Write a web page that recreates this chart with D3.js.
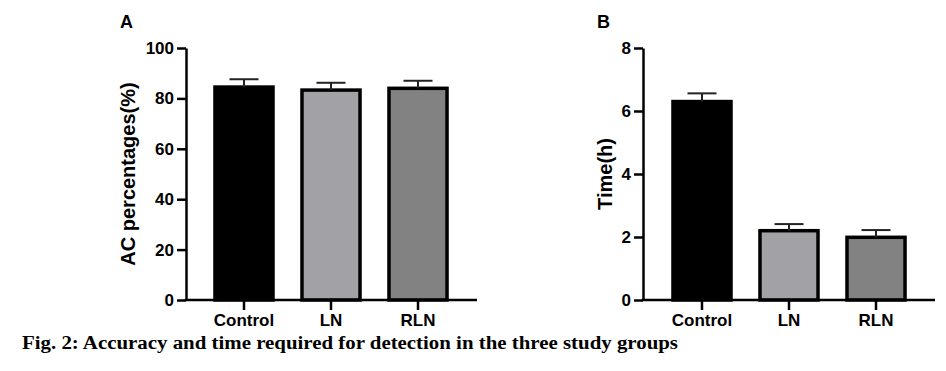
<!DOCTYPE html>
<html>
<head>
<meta charset="utf-8">
<script src="https://cdn.jsdelivr.net/npm/d3@7"></script>
<style>
  html, body { margin: 0; padding: 0; background: #fff; }
  svg { display: block; }
</style>
</head>
<body>
<div id="chart"></div>
<script>
(function () {
  'use strict';

  const GROUPS = ["Control", "LN", "RLN"];
  const FILLS = ["#000000", "#a2a2a6", "#828282"];

  const ACC_MEAN = [84.5, 83.3, 84.0];
  const ACC_ERR  = [3.1, 2.9, 3.0];
  const ACC_TICKS = [0, 20, 40, 60, 80, 100];

  const TIME_MEAN = [6.30, 2.20, 1.99];
  const TIME_ERR  = [0.26, 0.21, 0.23];
  const TIME_TICKS = [0, 2, 4, 6, 8];

  const width = 946, height = 371;
  const svg = d3.select('#chart').append('svg')
    .attr('width', width).attr('height', height);

  const sans = 'Liberation Sans, Arial, sans-serif';

  function panel(opt) {
    const g = svg.append('g');
    const y = d3.scaleLinear().domain(opt.domain).range([300, 48]);
    const x = d3.scaleBand().domain(GROUPS)
      .range(opt.xRange).paddingInner(0.333).paddingOuter(0.333);

    // bars
    g.selectAll('.bar')
      .data(GROUPS)
      .enter()
      .append('rect')
      .attr('x', d => x(d))
      .attr('y', (d, i) => y(opt.mean[i]))
      .attr('width', x.bandwidth())
      .attr('height', (d, i) => y(0) - y(opt.mean[i]))
      .attr('fill', (d, i) => FILLS[i])
      .attr('stroke', '#000')
      .attr('stroke-width', 3.5);

    // error bars (upper only)
    const eb = g.selectAll('.err')
      .data(GROUPS)
      .enter()
      .append('g')
      .attr('stroke', '#222')
      .attr('stroke-width', 2);
    eb.append('line')
      .attr('x1', d => x(d) + x.bandwidth() / 2)
      .attr('x2', d => x(d) + x.bandwidth() / 2)
      .attr('y1', (d, i) => y(opt.mean[i]))
      .attr('y2', (d, i) => y(opt.mean[i] + opt.err[i]));
    eb.append('line')
      .attr('x1', d => x(d) + x.bandwidth() / 2 - 14.5)
      .attr('x2', d => x(d) + x.bandwidth() / 2 + 14.5)
      .attr('y1', (d, i) => y(opt.mean[i] + opt.err[i]))
      .attr('y2', (d, i) => y(opt.mean[i] + opt.err[i]));

    // y axis
    const ya = g.append('g')
      .attr('transform', `translate(${opt.axisX},0)`)
      .call(d3.axisLeft(y).tickValues(opt.ticks).tickSize(9).tickSizeOuter(0).tickPadding(3));
    ya.select('.domain').attr('stroke-width', 2.5);
    ya.selectAll('.tick line').attr('stroke-width', 2.5);
    ya.selectAll('text')
      .attr('font-family', sans).attr('font-weight', 'bold')
      .attr('font-size', 17).attr('fill', '#000');

    // x axis
    const xa = g.append('g')
      .attr('transform', 'translate(0,300)')
      .call(d3.axisBottom(x).tickSize(10).tickSizeOuter(0).tickPadding(4));
    xa.select('.domain').remove();
    xa.selectAll('.tick line').attr('stroke-width', 2.5);
    xa.selectAll('text')
      .attr('font-family', sans).attr('font-weight', 'bold')
      .attr('font-size', 17).attr('fill', '#000');
    xa.append('line')
      .attr('x1', opt.axisX - 1.25).attr('x2', opt.axisEnd)
      .attr('y1', 0).attr('y2', 0)
      .attr('stroke', '#000').attr('stroke-width', 2.5);

    // y title
    g.append('text')
      .attr('transform', `translate(${opt.titleX},174) rotate(-90)`)
      .attr('text-anchor', 'middle')
      .attr('font-family', sans).attr('font-weight', 'bold')
      .attr('font-size', 20)
      .text(opt.title);

    // panel letter
    g.append('text')
      .attr('x', opt.letterX).attr('y', 28)
      .attr('font-family', sans).attr('font-weight', 'bold')
      .attr('font-size', 18)
      .text(opt.letter);
  }

  panel({
    domain: [0, 100], ticks: ACC_TICKS, mean: ACC_MEAN, err: ACC_ERR,
    xRange: [186, 476], axisX: 186, axisEnd: 477,
    title: 'AC percentages(%)', titleX: 135, letter: 'A', letterX: 120
  });

  panel({
    domain: [0, 8], ticks: TIME_TICKS, mean: TIME_MEAN, err: TIME_ERR,
    xRange: [644, 934], axisX: 643, axisEnd: 935,
    title: 'Time(h)', titleX: 612, letter: 'B', letterX: 597
  });

  // caption
  svg.append('text')
    .attr('x', 22).attr('y', 349)
    .attr('font-family', 'Liberation Serif, Times New Roman, serif')
    .attr('font-weight', 'bold')
    .attr('font-size', 18)
    .attr('textLength', 656)
    .attr('lengthAdjust', 'spacingAndGlyphs')
    .text('Fig. 2: Accuracy and time required for detection in the three study groups');
})();
</script>
</body>
</html>
